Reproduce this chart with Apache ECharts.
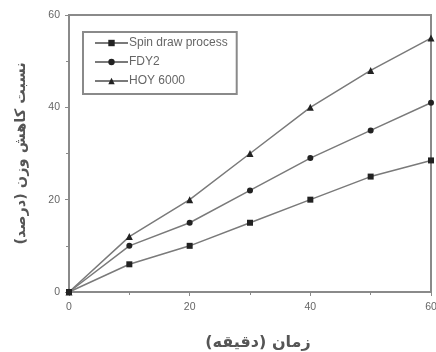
<!DOCTYPE html>
<html>
<head>
<meta charset="utf-8">
<script src="https://cdn.jsdelivr.net/npm/echarts@6/dist/echarts.min.js"></script>
<style>
  html, body { margin: 0; padding: 0; background: #fff; }
  #chart { width: 436px; height: 352px; }
</style>
</head>
<body>
<div id="chart"></div>
<script>
// Weight loss over time for three yarn types
const minutes = [0, 10, 20, 30, 40, 50, 60];
const spinDraw = [0, 6, 10, 15, 20, 25, 28.5];
const fdy2 = [0, 10, 15, 22, 29, 35, 41];
const hoy6000 = [0, 12, 20, 30, 40, 48, 55];
const seriesNames = ['Spin draw process', 'FDY2', 'HOY 6000'];
const xTitle = 'زمان (دقیقه)';
const yTitle = 'نسبت کاهش وزن (درصد)';

const pairs = (ys) => minutes.map((m, i) => [m, ys[i]]);

const lineColor = '#7a7a7a';
const markColor = '#222';
const axisColor = '#8a8a8a';

const chart = echarts.init(document.getElementById('chart'), null, { renderer: 'canvas' });

const mkSeries = (name, data, symbol, size) => ({
  name, type: 'line', data: pairs(data), symbol, symbolSize: size,
  lineStyle: { color: lineColor, width: 1.5 },
  itemStyle: { color: markColor },
  emphasis: { disabled: true },
  animation: false
});

const axisCommon = {
  type: 'value', min: 0, max: 60, interval: 20,
  axisLine: { show: true, lineStyle: { color: axisColor, width: 2 } },
  axisTick: { show: true, inside: false, length: 4, lineStyle: { color: axisColor, width: 1 } },
  minorTick: { show: true, splitNumber: 2, length: 3, lineStyle: { color: axisColor, width: 1 } },
  splitLine: { show: false },
  axisLabel: { color: '#666', fontSize: 10.5, fontFamily: 'Liberation Sans' }
};

const titleStyle = { color: '#555', fontWeight: 'bold', fontFamily: 'DejaVu Sans' };

chart.setOption({
  animation: false,
  grid: {
    left: 69, right: 5, top: 15, bottom: 60,
    outerBoundsMode: 'none', containLabel: false,
    show: true, borderColor: axisColor, borderWidth: 2
  },
  legend: {
    data: seriesNames,
    orient: 'vertical',
    left: 83, top: 32,
    padding: [5, 9, 7, 11],
    itemWidth: 33, itemHeight: 8, itemGap: 7,
    borderColor: axisColor, borderWidth: 2, borderRadius: 0,
    textStyle: { color: '#666', fontSize: 12, fontFamily: 'Liberation Sans', padding: [0, 0, 0, -4] }
  },
  xAxis: Object.assign({}, axisCommon, {
    axisLabel: Object.assign({}, axisCommon.axisLabel, { margin: 10 }),
    name: xTitle, nameLocation: 'middle', nameGap: 43,
    nameTextStyle: Object.assign({ fontSize: 16 }, titleStyle, { padding: [0, 0, 0, 16] })
  }),
  yAxis: Object.assign({}, axisCommon, {
    axisLabel: Object.assign({}, axisCommon.axisLabel, { margin: 9 }),
    name: yTitle, nameLocation: 'middle', nameGap: 40, nameRotate: 90,
    nameTextStyle: Object.assign({ fontSize: 14.5 }, titleStyle)
  }),
  series: [
    mkSeries(seriesNames[0], spinDraw, 'rect', 6),
    mkSeries(seriesNames[1], fdy2, 'circle', 6),
    mkSeries(seriesNames[2], hoy6000, 'triangle', 7)
  ]
});
</script>
</body>
</html>
